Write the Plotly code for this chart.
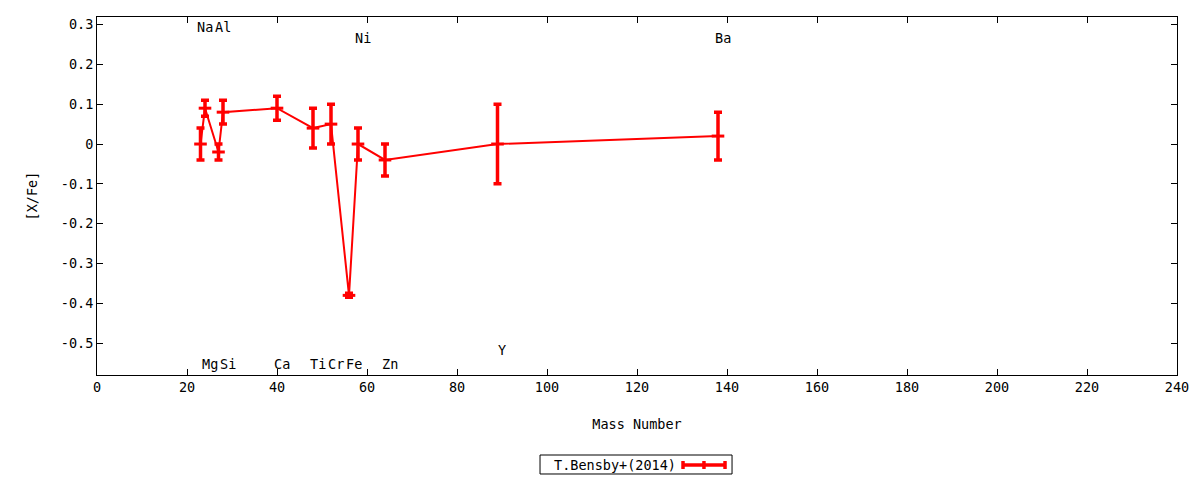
import plotly.graph_objects as go

# [X/Fe] abundances vs mass number, T.Bensby+(2014)
elements = ["Na", "Mg", "Al", "Si", "Ca", "Ti", "Cr", "Fe", "Ni", "Zn", "Y", "Ba"]
mass = [23, 24, 27, 28, 40, 48, 52, 56, 58, 64, 89, 138]
xfe = [0.0, 0.09, -0.02, 0.08, 0.09, 0.04, 0.05, -0.38, 0.0, -0.04, 0.0, 0.02]
err = [0.04, 0.02, 0.02, 0.03, 0.03, 0.05, 0.05, 0.005, 0.04, 0.04, 0.1, 0.06]
label_y = [0.293, -0.552, 0.293, -0.552, -0.552, -0.552, -0.552, -0.552,
           0.267, -0.552, -0.517, 0.267]

font = "DejaVu Sans Mono"
fsize = 13.5
red = "#ff0000"

fig = go.Figure()
fig.add_trace(go.Scatter(
    x=mass, y=xfe, mode="lines+markers", name="T.Bensby+(2014)",
    line=dict(color=red, width=2),
    marker=dict(symbol="line-ew", size=9, line=dict(color=red, width=3)),
    error_y=dict(type="data", array=err, color=red, thickness=3.5, width=4),
    showlegend=False,
))

for el, m, ly in zip(elements, mass, label_y):
    fig.add_annotation(x=m + 1, y=ly, text=el, showarrow=False,
                       xanchor="center", yanchor="middle",
                       font=dict(family=font, size=fsize, color="black"))

# gnuplot-style key: text on the left, sample on the right
fig.add_shape(type="rect", xref="paper", yref="paper", x0=0.4102, x1=0.588,
              y0=-0.2765, y1=-0.2235, line=dict(color="black", width=1))
fig.add_annotation(xref="paper", yref="paper", x=0.4796, y=-0.2514,
                   text="T.Bensby+(2014)", showarrow=False,
                   xanchor="center", yanchor="middle",
                   font=dict(family=font, size=fsize, color="black"))
fig.add_shape(type="line", xref="paper", yref="paper", x0=0.5426, x1=0.5815,
              y0=-0.2514, y1=-0.2514, line=dict(color=red, width=3.5))
for cx in [0.5426, 0.562, 0.5815]:
    fig.add_shape(type="line", xref="paper", yref="paper", x0=cx, x1=cx,
                  y0=-0.2625, y1=-0.2403, line=dict(color=red, width=3.5))

axis_style = dict(showline=True, linecolor="black", linewidth=1, mirror="ticks",
                  ticks="inside", ticklen=6, tickcolor="black", showgrid=False,
                  zeroline=False, tickfont=dict(family=font, size=fsize, color="black"))

fig.update_xaxes(range=[0, 240], dtick=20, title=dict(text="Mass Number", standoff=25,
                 font=dict(family=font, size=fsize, color="black")), **axis_style)
fig.update_yaxes(range=[-0.58, 0.319], tickvals=[0.3, 0.2, 0.1, 0, -0.1, -0.2, -0.3, -0.4, -0.5],
                 ticktext=["0.3", "0.2", "0.1", "0", "-0.1", "-0.2", "-0.3", "-0.4", "-0.5"],
                 title=dict(text="[X/Fe]", standoff=20,
                            font=dict(family=font, size=fsize, color="black")), **axis_style)

# the page body adds an 8 px margin, so the figure is offset by 8 px
fig.update_layout(width=1192, height=472, plot_bgcolor="white", paper_bgcolor="white",
                  margin=dict(l=89, r=23, t=9, b=105, autoexpand=False),
                  font=dict(family=font, size=fsize, color="black"))

fig.write_html("out.html")
